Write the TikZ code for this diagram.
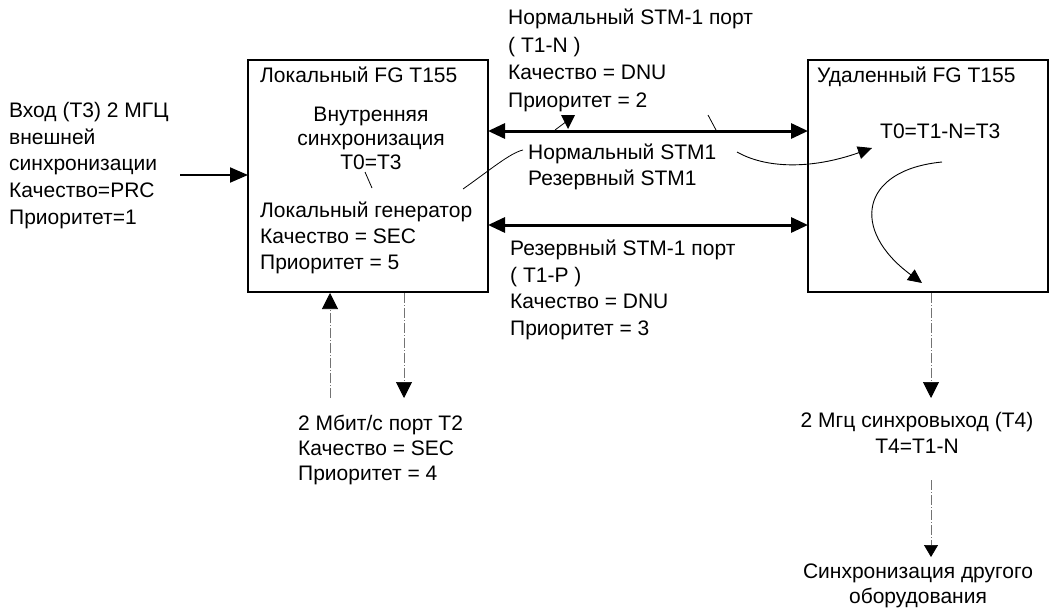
\documentclass[tikz,border=0pt]{standalone}
\usepackage{fontspec}
\setmainfont{Liberation Sans}
\usetikzlibrary{arrows.meta}
\begin{document}
\begin{tikzpicture}[x=1pt,y=-1pt,
  txt/.style={font=\fontsize{21}{26.5}\selectfont, inner sep=0pt, align=left, anchor=north west},
  ctxt/.style={font=\fontsize{21}{25}\selectfont, inner sep=0pt, align=center, anchor=north},
  box/.style={draw, line width=2pt, inner sep=0pt, minimum width=240pt, minimum height=232pt},
  dbl/.style={line width=3pt, {Triangle[length=17pt,width=15pt]}-{Triangle[length=17pt,width=15pt]}},
  inarr/.style={line width=2pt, -{Triangle[length=18pt,width=15pt]}},
  thin/.style={line width=0.8pt},
  carr/.style={line width=0.9pt, -{Triangle[length=14pt,width=13pt]}},
  dd/.style={draw=black!55, line width=0.7pt, dash pattern=on 10pt off 2pt on 1pt off 2pt},
  ddarr/.style={dd, -{Triangle[length=16pt,width=16pt,color=black]}},
  ddarrs/.style={dd, -{Triangle[length=12pt,width=14pt,color=black]}}]
\useasboundingbox (0,0) rectangle (1051,610);

% boxes
\node[box] (L) at (368,176) {};
\node[box] (R) at (928,176) {};

% texts
\node[txt, font=\fontsize{21}{26.7}\selectfont] (inp) at (9,102) {Вход (Т3) 2 МГЦ\\внешней\\синхронизации\\Качество=PRC\\Приоритет=1};
\node[txt] (Ltitle) at (260,67) {Локальный FG T155};
\node[ctxt, font=\fontsize{21}{24}\selectfont] (Lint) at (371,107) {Внутренняя\\синхронизация\\T0=T3};
\node[txt, font=\fontsize{21}{26}\selectfont] (Lgen) at (260,202) {Локальный генератор\\Качество = SEC\\Приоритет = 5};
\node[txt, font=\fontsize{21}{27.5}\selectfont] (nport) at (508,9) {Нормальный STM-1 порт\\( T1-N )\\Качество = DNU\\Приоритет = 2};
\node[txt, font=\fontsize{21}{26}\selectfont] (stm) at (528,144) {Нормальный STM1\\Резервный STM1};
\node[txt, font=\fontsize{21}{26.5}\selectfont] (rport) at (510,240) {Резервный STM-1 порт\\( T1-P )\\Качество = DNU\\Приоритет = 3};
\node[txt] (Rtitle) at (817,67) {Удаленный FG T155};
\node[txt] (Rint) at (880,124) {T0=T1-N=T3};
\node[txt, font=\fontsize{21}{25}\selectfont] (t2) at (298,415) {2 Мбит/с порт T2\\Качество = SEC\\Приоритет = 4};
\node[ctxt, font=\fontsize{21}{26}\selectfont] (t4) at (917,412) {2 Мгц синхровыход (T4)\\T4=T1-N};
\node[ctxt] (oth) at (918,564) {Синхронизация другого\\оборудования};

% coordinates
\coordinate (a1) at (488,131);
\coordinate (b1) at (808,131);
\coordinate (a2) at (488,225);
\coordinate (b2) at (808,225);
\coordinate (in0) at (180,175);
\coordinate (in1) at (248,175);

% main arrows
\draw[dbl] (a1) -- (b1);
\draw[dbl] (a2) -- (b2);
\draw[inarr] (in0) -- (in1);

% thin lines and curves
\coordinate (c1s) at (463,189);
\coordinate (c1e) at (523,150);
\draw[thin] (c1s) .. controls (490,170) and (510,153) .. (c1e);
\coordinate (k1s) at (365,172);
\coordinate (k1e) at (372,188);
\draw[thin] (k1s) -- (k1e);
\coordinate (k2s) at (555,130);
\coordinate (k2e) at (567,121);
\draw[thin] (k2s) -- (k2e);
\fill (561,115) -- (575,115) -- (568,129) -- cycle;
\coordinate (k3s) at (708,115);
\coordinate (k3e) at (716,130);
\draw[thin] (k3s) -- (k3e);
\coordinate (c2s) at (737,152);
\coordinate (c2e) at (872,148);
\draw[carr] (c2s) .. controls (765,168) and (810,170) .. (c2e);
\coordinate (c3s) at (942,162);
\coordinate (c3e) at (922,283);
\draw[carr] (c3s) .. controls (860,170) and (850,230) .. (c3e);

% dash-dotted connectors
\coordinate (u0) at (330,398);
\coordinate (u1) at (330,293);
\draw[ddarr] (u0) -- (u1);
\coordinate (d0) at (404,293);
\coordinate (d1) at (404,398);
\draw[ddarr] (d0) -- (d1);
\coordinate (r0) at (931,293);
\coordinate (r1) at (931,398);
\draw[ddarr] (r0) -- (r1);
\coordinate (s0) at (931,480);
\coordinate (s1) at (931,557);
\draw[ddarrs] (s0) -- (s1);
\end{tikzpicture}
\end{document}
